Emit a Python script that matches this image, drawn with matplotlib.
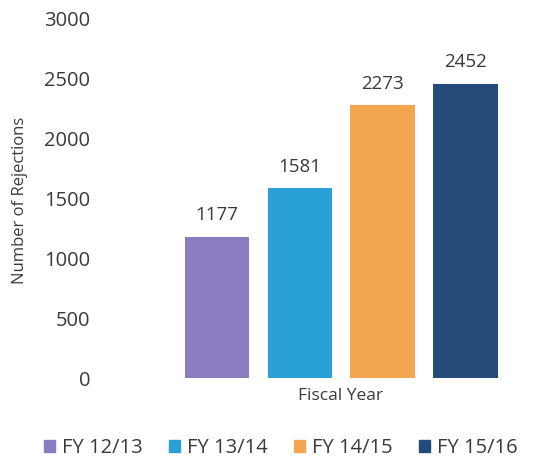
import matplotlib.pyplot as plt
from matplotlib.patches import Patch

years = ['FY 12/13', 'FY 13/14', 'FY 14/15', 'FY 15/16']
rejections = [1177, 1581, 2273, 2452]
colors = ['#8b7bbf', '#29a0d6', '#f4a54f', '#244b79']
yticks = [0, 500, 1000, 1500, 2000, 2500, 3000]

plt.rcParams['font.family'] = ['Open Sans', 'DejaVu Sans']
txt = '#3a3a3a'

fig = plt.figure(figsize=(5.46, 4.76), dpi=100)
ax = fig.add_axes([100 / 546, 98 / 476, 440 / 546, 360 / 476])

x = list(range(len(years)))
bars = ax.bar(x, rejections, width=0.78, color=colors)
for b, v in zip(bars, rejections):
    ax.annotate(str(v), (b.get_x() + b.get_width() / 2, v), xytext=(0, 9),
                textcoords='offset points', ha='center', va='bottom',
                fontsize=13.5, color=txt)

ax.set_ylim(0, 3000)
ax.set_xlim(-1.41, 3.39 + 42 / 83)
ax.set_yticks(yticks)
ax.set_yticklabels([str(t) for t in yticks], fontsize=14.5, color=txt)
ax.tick_params(axis='y', length=0, pad=7)
ax.set_xticks([])
for s in ax.spines.values():
    s.set_visible(False)

fig.text(341 / 546, 1 - 396 / 476, 'Fiscal Year', ha='center', va='center',
         fontsize=12.5, color=txt)
fig.text(20 / 546, 1 - 200 / 476, 'Number of Rejections', ha='center', va='center',
         rotation=90, fontsize=12, color=txt)

handles = [Patch(color=c, label=l) for c, l in zip(colors, years)]
fig.legend(handles=handles, loc='center', bbox_to_anchor=(281 / 546, 1 - 448 / 476),
           ncol=4, frameon=False, fontsize=14.5, handlelength=0.55, handleheight=0.55,
           handletextpad=0.35, columnspacing=1.3, labelcolor=txt)

fig.savefig('out.png', dpi=100)
